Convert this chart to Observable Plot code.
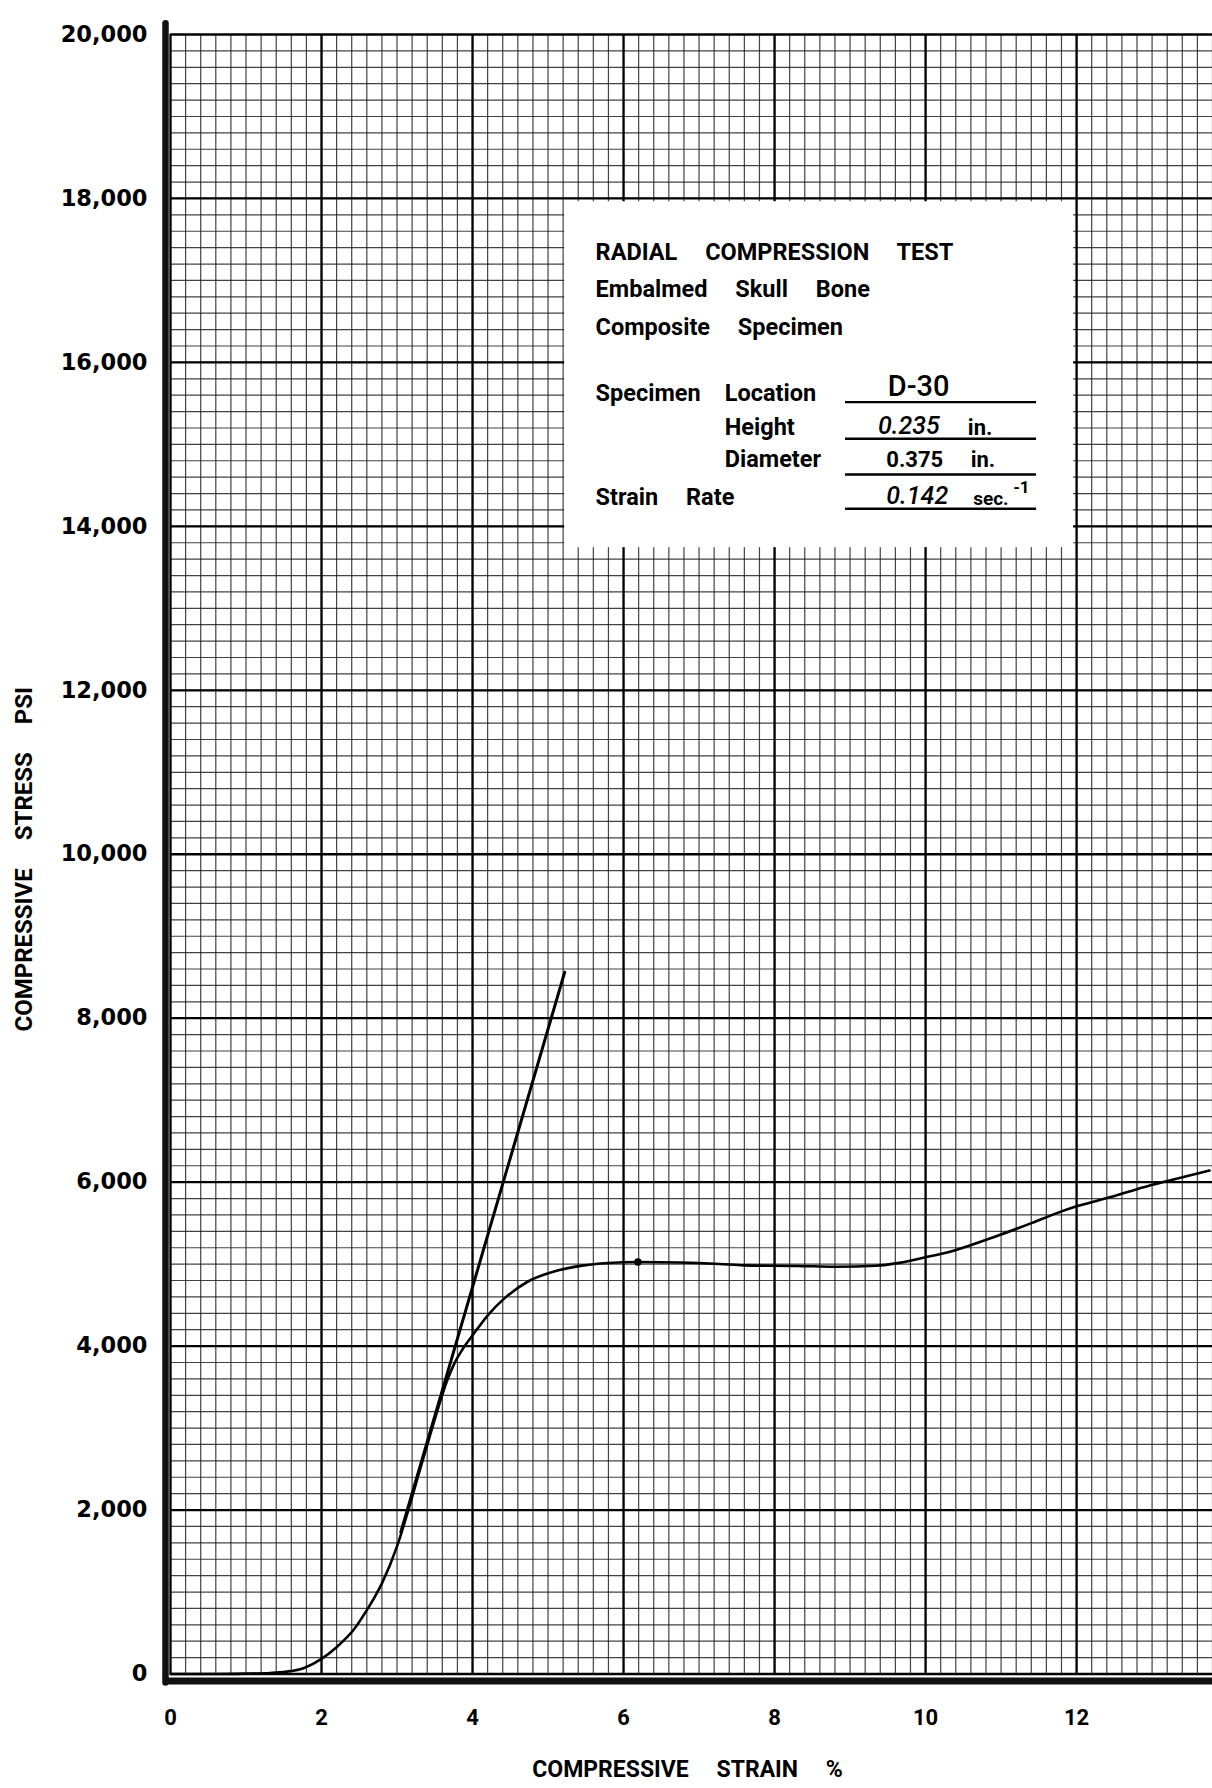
<!DOCTYPE html>
<html><head><meta charset="utf-8">
<script src="https://cdn.jsdelivr.net/npm/d3@7"></script>
<script src="https://cdn.jsdelivr.net/npm/@observablehq/plot@0.6"></script>
<style>html,body{margin:0;padding:0;background:#fff;}</style>
</head><body><div id="chart"></div>
<script>
// ---- data ----
const strainTicks = [0, 2, 4, 6, 8, 10, 12];
const strainTickLabels = ["0", "2", "4", "6", "8", "10", "12"];
const stressTicks = [0, 2000, 4000, 6000, 8000, 10000, 12000, 14000, 16000, 18000, 20000];
const stressTickLabels = ["0", "2,000", "4,000", "6,000", "8,000", "10,000", "12,000", "14,000", "16,000", "18,000", "20,000"];

const curveStrain = [0, 0.5, 1.0, 1.32, 1.54, 1.77, 2.0, 2.21, 2.42, 2.6, 2.8, 3.0, 3.15, 3.3, 3.45, 3.56, 3.66, 3.76, 3.86, 4.0, 4.21, 4.43, 4.74, 5.09, 5.45, 5.8, 6.19, 6.75, 7.27, 7.6, 8.3, 8.82, 9.34, 9.65, 10.0, 10.37, 10.89, 11.41, 11.72, 12.0, 12.45, 12.97, 13.23, 13.76];
const curveStress = [0, 0, 5, 12, 29, 74, 184, 336, 533, 779, 1106, 1557, 2000, 2480, 2950, 3290, 3570, 3790, 3950, 4130, 4385, 4588, 4791, 4913, 4982, 5014, 5026, 5020, 5002, 4985, 4978, 4968, 4980, 5015, 5083, 5164, 5325, 5503, 5616, 5705, 5818, 5959, 6020, 6141];

const tangentStrain = [3.05, 5.22];
const tangentStress = [1730, 8560];

const markerStrain = [6.19];
const markerStress = [5026];

const xTitle = "COMPRESSIVE STRAIN %";
const yTitle = "COMPRESSIVE STRESS PSI";
const boxHeaderLines = ["RADIAL COMPRESSION TEST", "Embalmed Skull Bone", "Composite Specimen"];
const boxFieldsCol1 = ["Specimen", "Strain Rate"];
const boxFieldsCol2 = ["Location", "Height", "Diameter"];
const boxHandValues = ["D-30", "0.235", "0.142"];
const boxLetteredValues = ["in.", "0.375 in.", "sec.", "-1"];

// ---- build tables ----
const curve = curveStrain.map((x, i) => ({x, y: curveStress[i]}));
const tangent = tangentStrain.map((x, i) => ({x, y: tangentStress[i]}));
const marker = markerStrain.map((x, i) => ({x, y: markerStress[i]}));

const xMinor = d3.range(0, 70).map(i => +(i * 0.2).toFixed(1));
const yMinor = d3.range(0, 101).map(i => i * 200);
const xMajor = xMinor.filter((d, i) => i % 10 === 0);
const yMajor = yMinor.filter((d, i) => i % 10 === 0);

// layout of the pasted label (in chart units)
const col1 = 5.63, col2 = 7.34;
const headerY = [17344, 16889, 16429];
const header = boxHeaderLines.map((t, i) => ({t, x: col1, y: headerY[i]}));
const fields = [
  {t: boxFieldsCol1[0], x: col1, y: 15617},
  {t: boxFieldsCol2[0], x: col2, y: 15617},
  {t: boxFieldsCol2[1], x: col2, y: 15202},
  {t: boxFieldsCol2[2], x: col2, y: 14812},
  {t: boxFieldsCol1[1], x: col1, y: 14348}
];
const hand = [
  {t: boxHandValues[1], x: 9.37, y: 15225, size: 25},
  {t: boxHandValues[2], x: 9.48, y: 14375, size: 25}
];
const handBig = [{t: boxHandValues[0], x: 9.5, y: 15700}];
const lettered = [
  {t: boxLetteredValues[0], x: 10.56, y: 15202, size: 22},
  {t: boxLetteredValues[1], x: 9.48, y: 14812, size: 22},
  {t: boxLetteredValues[2], x: 10.63, y: 14330, size: 19},
  {t: boxLetteredValues[3], x: 11.16, y: 14470, size: 17}
];
const underlineY = [15515, 15068, 14633, 14214];

const gridMinor = {stroke: "#1a1a1a", strokeWidth: 1.2, strokeOpacity: 0.82};
const gridMajor = {stroke: "#000", strokeWidth: 2.3};

const plot = Plot.plot({
  width: 1212,
  height: 1788,
  marginTop: 34,
  marginBottom: 114.5,
  marginLeft: 170,
  marginRight: 0,
  x: {domain: [0, 13.8]},
  y: {domain: [0, 20000]},
  style: {fontFamily: "Roboto, sans-serif", background: "#fff", color: "#000"},
  marks: [
    Plot.ruleX(xMinor, gridMinor),
    Plot.ruleY(yMinor, gridMinor),
    Plot.ruleX(xMajor, gridMajor),
    Plot.ruleY(yMajor, gridMajor),
    // pasted white label
    Plot.rect([0], {x1: 5.22, x2: 11.96, y1: 13740, y2: 17960, fill: "#fff"}),
    Plot.text(header, {x: "x", y: "y", text: "t", textAnchor: "start", lineAnchor: "middle", fontSize: 23.5, fontWeight: "bold", fill: "#000"}),
    Plot.text(fields, {x: "x", y: "y", text: "t", textAnchor: "start", lineAnchor: "middle", fontSize: 23.5, fontWeight: "bold", fill: "#000"}),
    Plot.text(hand, {x: "x", y: "y", text: "t", textAnchor: "start", lineAnchor: "middle", fontSize: d => d.size, fontStyle: "italic", fontWeight: 500, fill: "#000"}),
    Plot.text(handBig, {x: "x", y: "y", text: "t", textAnchor: "start", lineAnchor: "middle", fontSize: 29, fontWeight: 500, fill: "#000"}),
    Plot.text(lettered, {x: "x", y: "y", text: "t", textAnchor: "start", lineAnchor: "middle", fontSize: d => d.size, fontWeight: "bold", fill: "#000"}),
    Plot.ruleY(underlineY, {x1: 8.94, x2: 11.47, stroke: "#000", strokeWidth: 2.4}),
    // heavy axis bars
    Plot.ruleX([0], {y1: -110, y2: 20130, dx: -5, stroke: "#111", strokeWidth: 6.5, strokeLinecap: "round"}),
    Plot.ruleY([0], {x1: -0.09, x2: 13.8, dy: 7, stroke: "#111", strokeWidth: 7}),
    // data
    Plot.line(curve, {x: "x", y: "y", curve: "monotone-x", stroke: "#000", strokeWidth: 2.6}),
    Plot.line(tangent, {x: "x", y: "y", stroke: "#000", strokeWidth: 3}),
    Plot.dot(marker, {x: "x", y: "y", r: 3.8, fill: "#000"}),
    // axes
    Plot.axisX(strainTicks, {tickSize: 0, tickPadding: 35, tickFormat: d => strainTickLabels[strainTicks.indexOf(d)], fontSize: 22, fontWeight: "bold", fontFamily: "Roboto, sans-serif", label: null}),
    Plot.axisY(stressTicks, {tickSize: 0, tickPadding: 23, tickFormat: d => stressTickLabels[stressTicks.indexOf(d)], fontSize: 22.5, fontWeight: "bold", fontFamily: "DejaVu Sans, sans-serif", label: null}),
    Plot.text([yTitle], {frameAnchor: "left", dx: -146, dy: 5, rotate: -90, textAnchor: "middle", lineAnchor: "middle", fontSize: 24, fontWeight: "bold", fill: "#000", ariaLabel: "y-title"}),
    Plot.text([xTitle], {frameAnchor: "bottom", dx: -4, dy: 96, textAnchor: "middle", lineAnchor: "middle", fontSize: 23, fontWeight: "bold", fill: "#000", ariaLabel: "x-title"})
  ]
});
plot.style.wordSpacing = "22px";
const xt = plot.querySelector('g[aria-label="x-title"]');
if (xt) xt.style.wordSpacing = "30px";
const yt = plot.querySelector('g[aria-label="y-title"]');
if (yt) yt.style.wordSpacing = "26px";
document.getElementById("chart").appendChild(plot);
</script>
</body></html>
